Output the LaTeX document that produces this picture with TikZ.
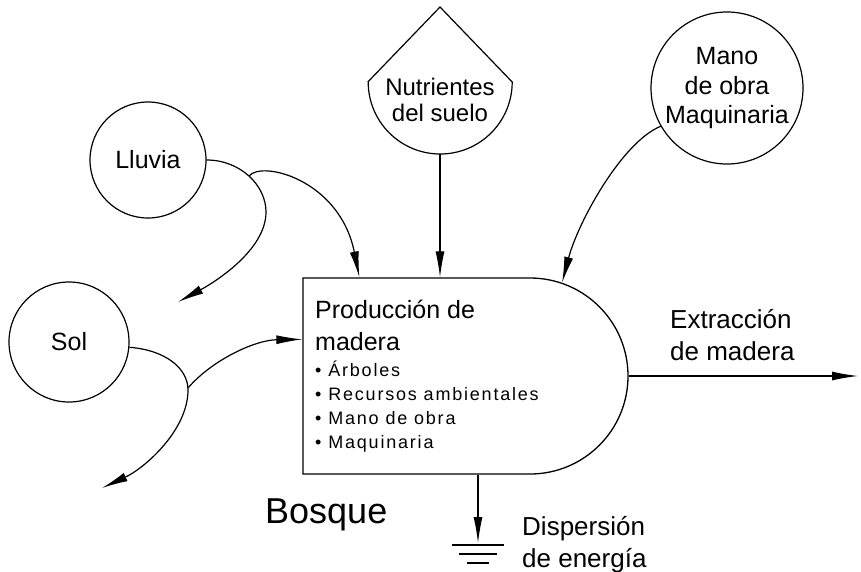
\documentclass[tikz,border=0pt]{standalone}
\usepackage{fontspec}
\setmainfont{Liberation Sans}
\newfontfamily\itemfont[LetterSpace=10]{Liberation Sans}
\usetikzlibrary{arrows.meta,shapes.misc,calc}

\begin{document}
\begin{tikzpicture}[
    x=1pt, y=-1pt,
    source/.style={circle,draw,line width=1.2pt,inner sep=0pt,align=center,
        font=\fontsize{25}{29.5}\selectfont},
    tank/.style={circle,minimum size=144pt,inner sep=0pt},
    forest/.style={rounded rectangle,rounded rectangle west arc=none,draw,
        line width=1.3pt,minimum width=325pt,minimum height=196pt,inner sep=0pt},
    flow/.style={line width=1.2pt,-{Latex[length=26pt,width=9pt]}},
    lbl/.style={align=left,inner sep=0pt,font=\fontsize{26}{32}\selectfont},
]
    \useasboundingbox (0,0) rectangle (861,571);

    % Sources
    \node[source,minimum size=116pt] (lluvia) at (148,160) {Lluvia};
    \node[source,minimum size=120pt] (sol) at (69,342) {Sol};
    \node[source,minimum size=152pt] (mano) at (727,88) {Mano\\de obra\\Maquinaria};
    \node[tank] (nutr) at (440,82) {};
    \draw[line width=1.2pt] (nutr.west) -- (440,7) -- (nutr.east)
        arc[start angle=0,end angle=-180,radius=72pt];
    \node[align=center,inner sep=0pt,font=\fontsize{24}{26}\selectfont]
        (nutrtxt) at (440,100) {Nutrientes\\del suelo};

    % Forest storage
    \node[forest] (box) at (465.5,376) {};
    \node[lbl,anchor=base west,font=\fontsize{25}{32}\selectfont]
        (boxhead) at (315,350) {Producción de\\madera};
    \node[lbl,anchor=base west,font=\itemfont\fontsize{18}{24}\selectfont]
        (boxitems) at (315,448) {• Árboles\\• Recursos ambientales\\• Mano de obra\\• Maquinaria};
    \node[inner sep=0pt,anchor=base west,font=\fontsize{36}{40}\selectfont]
        (bosque) at (265,523) {Bosque};

    % Free ends
    \coordinate (lsplit) at (249,176);
    \coordinate (lluviaout) at (178,302);
    \coordinate (lluviain) at ($(box.north west)+(57,0)$);
    \coordinate (ssplit) at (188,388);
    \coordinate (solout) at (102,488);
    \coordinate (solin) at ($(box.north west)+(0,62)$);
    \coordinate (extr) at (858,376);
    \coordinate (gnd) at (478,543);

    % Flows
    \draw[flow] (lluvia.east) .. controls (240,160) and (266,185) .. (266,212)
        .. controls (266,250) and (215,282) .. (lluviaout);
    \draw[flow] (lsplit) .. controls (262,160) and (340,180) .. (lluviain);
    \draw[flow] (sol.-5) .. controls (165,350) and (188,368) .. (188,390)
        .. controls (188,430) and (145,468) .. (solout);
    \draw[flow] (ssplit) .. controls (212,360) and (255,340) .. (solin);
    \draw[flow] (nutr.south) -- (nutr.south |- box.north);
    \draw[flow] (mano.210) .. controls (622,142) and (578,222) .. (box.44);
    \draw[flow] (box.east) -- (extr);
    \draw[flow] (gnd |- box.south) -- (gnd);

    % Heat sink
    \draw[line width=1.3pt] ($(gnd)+(-26,2)$) -- ($(gnd)+(26,2)$);
    \draw[line width=1.3pt] ($(gnd)+(-19,11)$) -- ($(gnd)+(19,11)$);
    \draw[line width=1.3pt] ($(gnd)+(-11,20)$) -- ($(gnd)+(11,20)$);

    % Outflow labels
    \node[lbl,anchor=base west] (extrlbl) at (670,360) {Extracción\\de madera};
    \node[lbl,anchor=base west] (displbl) at (522,567) {Dispersión\\de energía};
\end{tikzpicture}
\end{document}
